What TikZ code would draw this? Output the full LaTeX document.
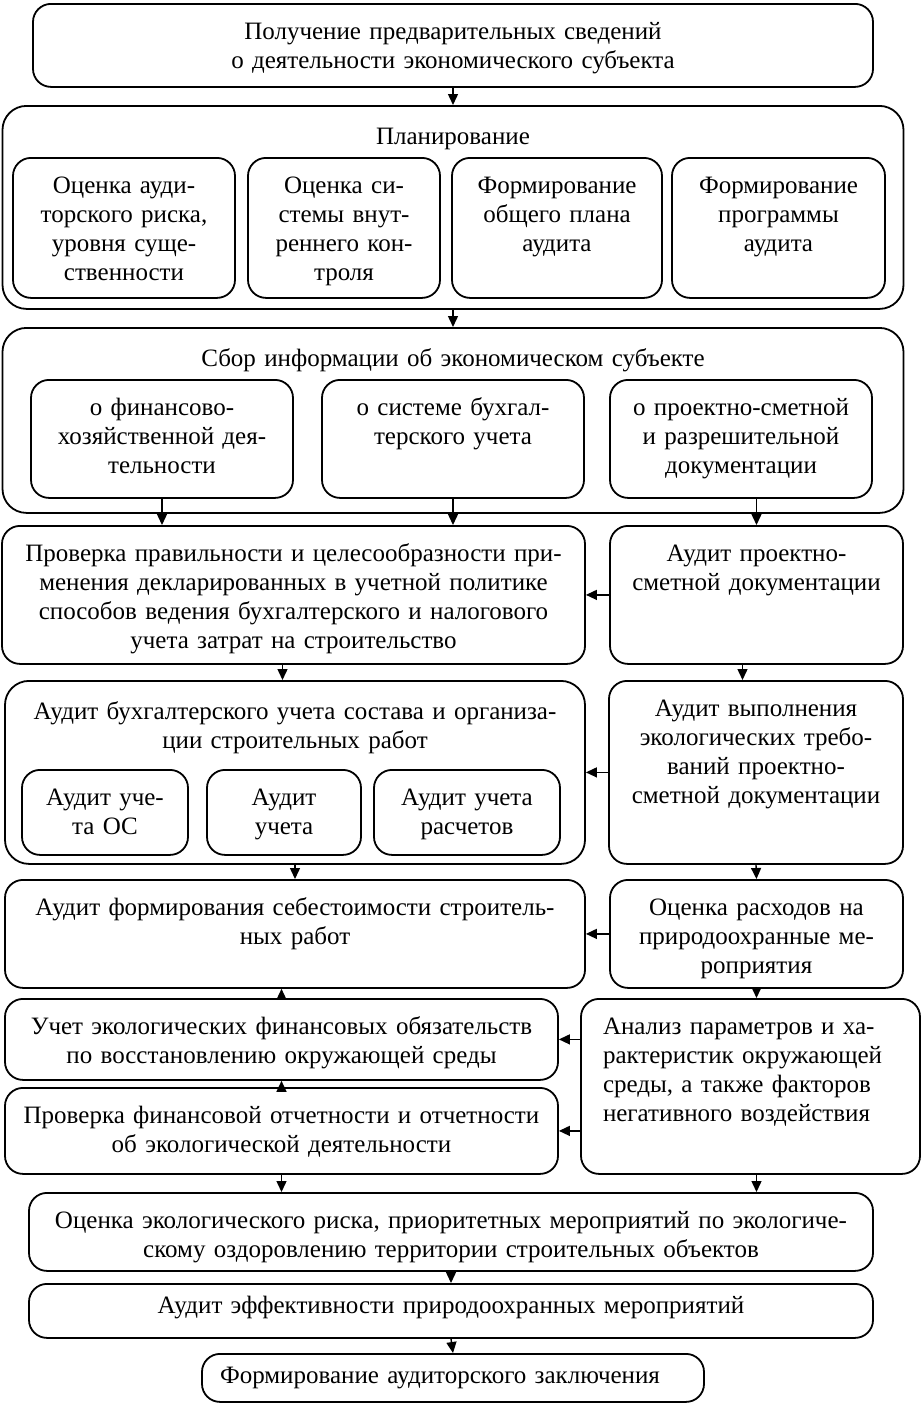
\documentclass[tikz,border=0pt]{standalone}
\usepackage{fontspec}
\setmainfont{Liberation Serif}
\usetikzlibrary{arrows.meta}
\tikzset{
  blk/.style ={draw, line width=0.9pt, rounded corners=9pt, anchor=north,
               align=center, inner xsep=2pt, inner ysep=9pt, text height=9pt,
               font=\fontsize{12.5}{14.5}\selectfont},
  grp/.style ={blk, rounded corners=12pt, inner ysep=10.5pt},
  arr/.style ={-{Triangle[length=5.5pt,width=5pt]}, line width=0.7pt},
}
\begin{document}
\begin{tikzpicture}[x=1pt, y=-1pt]
\useasboundingbox (0,0) rectangle (462,701.5);
\node[blk, text width=416pt, text depth=14.5pt] (get) at (226.5,1.5)
  {Получение предварительных сведений\\о деятельности экономического субъекта};
\node[grp, text width=446.5pt, text depth=71.5pt] (plan) at (226.5,52.5)
  {Планирование};
\node[blk, text width=107pt, text depth=43pt] (p1) at (62,78.5)
  {Оценка ауди-\\торского риска,\\уровня суще-\\ственности};
\node[blk, text width=92pt, text depth=43pt] (p2) at (172,78.5)
  {Оценка си-\\стемы внут-\\реннего кон-\\троля};
\node[blk, text width=101pt, text depth=43pt] (p3) at (278.5,78.5)
  {Формирование\\общего плана\\аудита};
\node[blk, text width=102.5pt, text depth=43pt] (p4) at (389.25,78.5)
  {Формирование\\программы\\аудита};
\node[grp, text width=446.5pt, text depth=62.5pt] (sbor) at (226.5,163.5)
  {Сбор информации об экономическом субъекте};
\node[blk, text width=127pt, text depth=32pt] (s1) at (81,189.5)
  {о финансово-\\хозяйственной дея-\\тельности};
\node[blk, text width=127pt, text depth=32pt] (s2) at (226.5,189.5)
  {о системе бухгал-\\терского учета};
\node[blk, text width=127pt, text depth=32pt] (s3) at (370.5,189.5)
  {о проектно-сметной\\и разрешительной\\документации};
\node[blk, text width=287.5pt, text depth=42pt] (chk) at (146.75,262.5)
  {Проверка правильности и целесообразности при-\\менения декларированных в учетной политике\\способов ведения бухгалтерского и налогового\\учета затрат на строительство};
\node[blk, text width=142.5pt, text depth=42pt] (apsd) at (378.25,262.5)
  {Аудит проектно-\\сметной документации};
\node[grp, text width=286pt, text depth=61.5pt] (abu) at (147.5,340)
  {Аудит бухгалтерского учета состава и организа-\\ции строительных работ};
\node[blk, text width=79pt, text depth=15.5pt] (a1) at (52.5,384.5)
  {Аудит уче-\\та ОС};
\node[blk, text width=73pt, text depth=15.5pt] (a2) at (142,384.5)
  {Аудит\\учета};
\node[blk, text width=89pt, text depth=15.5pt] (a3) at (233.5,384.5)
  {Аудит учета\\расчетов};
\node[blk, text width=143pt, text depth=64.5pt] (avyp) at (378,340)
  {Аудит выполнения\\экологических требо-\\ваний проектно-\\сметной документации};
\node[blk, text width=286pt, text depth=27pt] (aform) at (147.5,439.5)
  {Аудит формирования себестоимости строитель-\\ных работ};
\node[blk, text width=142.5pt, text depth=27pt] (orash) at (378.25,439.5)
  {Оценка расходов на\\природоохранные ме-\\роприятия};
\node[blk, text width=272.5pt, text depth=13.5pt] (uchet) at (140.75,499)
  {Учет экологических финансовых обязательств\\по восстановлению окружающей среды};
\node[blk, text width=272.5pt, text depth=16pt] (pfin) at (140.75,543.5)
  {Проверка финансовой отчетности и отчетности\\об экологической деятельности};
\node[blk, align=left, text width=147.5pt, inner xsep=11pt, text depth=60.5pt] (anal) at (375.25,499)
  {Анализ параметров и ха-\\рактеристик окружающей\\среды, а также факторов\\негативного воздействия};
\node[blk, text width=418pt, text depth=12pt] (oeco) at (225.5,596)
  {Оценка экологического риска, приоритетных мероприятий по экологиче-\\скому оздоровлению территории строительных объектов};
\node[blk, text width=418pt, text height=6pt, text depth=3pt] (aeff) at (225.5,641.5)
  {Аудит эффективности природоохранных мероприятий};
\node[blk, align=left, text width=233pt, inner xsep=9pt, text height=6pt, text depth=0pt] (fin) at (226.5,676.5)
  {Формирование аудиторского заключения};
\draw[arr] (get.south) -- (plan.north);
\draw[arr] (plan.south) -- (sbor.north);
\draw[arr] (s1.south) -- (s1.south |- chk.north);
\draw[arr] (s2.south) -- (s2.south |- chk.north);
\draw[arr] (apsd.north |- s3.south) -- (apsd.north);
\draw[arr] (apsd.west) -- (chk.east);
\draw[arr] ([xshift=-5.5pt]chk.south) -- ([xshift=-5.5pt]chk.south |- abu.north);
\draw[arr] ([xshift=-7pt]apsd.south) -- ([xshift=-7pt]apsd.south |- avyp.north);
\draw[arr] (avyp.west) -- (abu.east);
\draw[arr] (abu.south) -- (aform.north);
\draw[arr] (avyp.south) -- (orash.north);
\draw[arr] (orash.west) -- (aform.east);
\draw[arr] (uchet.north) -- (uchet.north |- aform.south);
\draw[arr] (orash.south) -- (orash.south |- anal.north);
\draw[arr] (anal.west |- uchet.east) -- (uchet.east);
\draw[arr] (anal.west |- pfin.east) -- (pfin.east);
\draw[arr] (pfin.north) -- (pfin.north |- uchet.south);
\draw[arr] (pfin.south) -- (pfin.south |- oeco.north);
\draw[arr] (anal.south -| orash.south) -- (orash.south |- oeco.north);
\draw[arr] (oeco.south) -- (aeff.north);
\draw[arr] (aeff.south) -- (fin.north);
\end{tikzpicture}
\end{document}
